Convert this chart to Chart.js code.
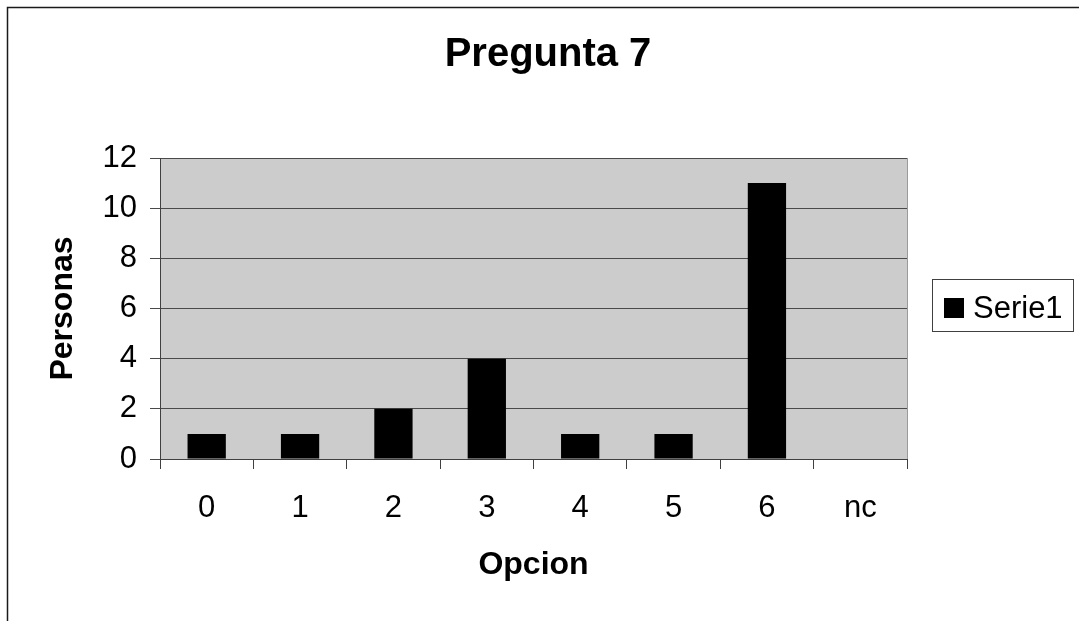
<!DOCTYPE html>
<html lang="es">
<head>
  <meta charset="UTF-8">
  <title>Pregunta 7</title>
  <style>
    * { margin: 0; padding: 0; box-sizing: border-box; }
    body { background: #fff; width: 1079px; height: 621px; overflow: hidden; }
    canvas { display: block; }
  </style>
</head>
<body>
  <canvas id="chart" width="1079" height="621"></canvas>

  <script src="https://cdn.jsdelivr.net/npm/chart.js"></script>
  <script>
    // chart data
    const categories = ['0', '1', '2', '3', '4', '5', '6', 'nc'];
    const personas = [1, 1, 2, 4, 1, 1, 11, 0];
    const seriesName = 'Serie1';
    const chartTitle = 'Pregunta 7';
    const yMin = 0, yMax = 12, yStep = 2;

    const FONT = "'Liberation Sans', Arial, sans-serif";

    // grey plot background, outer frame, title and legend box (excel style)
    const excelLook = {
      id: 'excelLook',
      beforeDraw(chart) {
        const { ctx, chartArea: a } = chart;
        ctx.save();
        ctx.fillStyle = '#cccccc';
        ctx.fillRect(a.left, a.top, a.right - a.left, a.bottom - a.top);
        ctx.restore();
      },
      afterDraw(chart) {
        const { ctx, chartArea: a } = chart;
        ctx.save();
        // right border of plot area
        ctx.strokeStyle = '#9a9a9a';
        ctx.lineWidth = 1;
        ctx.beginPath();
        ctx.moveTo(a.right + 0.5, a.top);
        ctx.lineTo(a.right + 0.5, a.bottom);
        ctx.stroke();

        // outer frame (only top/left visible)
        ctx.strokeStyle = '#1a1a1a';
        ctx.lineWidth = 1.5;
        ctx.strokeRect(7.5, 7.5, 1200, 1200);

        // title, centred on the whole picture
        ctx.fillStyle = '#000';
        ctx.font = 'bold 40px ' + FONT;
        ctx.textAlign = 'center';
        ctx.textBaseline = 'middle';
        ctx.fillText(chartTitle, 548, 55);

        // legend
        const ds = chart.data.datasets[0];
        ctx.strokeStyle = '#404040';
        ctx.lineWidth = 1;
        ctx.strokeRect(932.5, 279.5, 141, 52);
        ctx.fillStyle = ds.backgroundColor;
        ctx.fillRect(944, 298, 20, 20);
        ctx.fillStyle = '#000';
        ctx.font = '31px ' + FONT;
        ctx.textAlign = 'left';
        ctx.textBaseline = 'alphabetic';
        ctx.fillText(ds.label, 973, 318);
        ctx.restore();
      }
    };

    new Chart(document.getElementById('chart'), {
      type: 'bar',
      data: {
        labels: categories,
        datasets: [{
          label: seriesName,
          data: personas,
          backgroundColor: '#000000',
          borderWidth: 0,
          barPercentage: 0.41,
          categoryPercentage: 1
        }]
      },
      options: {
        responsive: false,
        animation: false,
        devicePixelRatio: 1,
        layout: { padding: { left: 0, right: 172, top: 158, bottom: 0 } },
        plugins: {
          legend: { display: false },
          tooltip: { enabled: false },
          title: { display: false }
        },
        scales: {
          x: {
            offset: true,
            grid: {
              offset: true,
              drawOnChartArea: false,
              drawTicks: true,
              tickLength: 10,
              color: '#404040'
            },
            border: { color: '#404040', width: 1 },
            ticks: {
              color: '#000',
              padding: 21,
              font: { family: FONT, size: 31 }
            },
            title: {
              display: true,
              text: 'Opcion',
              color: '#000',
              font: { family: FONT, size: 32, weight: 'bold' },
              padding: { top: 0, bottom: 37 }
            },
            afterFit(scale) { scale.height = 162; }
          },
          y: {
            min: yMin,
            max: yMax,
            grid: {
              color: '#4a4a4a',
              tickLength: 10,
              drawTicks: true
            },
            border: { color: '#404040', width: 1 },
            ticks: {
              stepSize: yStep,
              color: '#000',
              padding: 13,
              font: { family: FONT, size: 31 }
            },
            title: {
              display: true,
              text: 'Personas',
              color: '#000',
              font: { family: FONT, size: 32, weight: 'bold' },
              padding: { top: 44, bottom: 0 }
            },
            afterFit(scale) { scale.width = 160; }
          }
        }
      },
      plugins: [excelLook]
    });
  </script>
</body>
</html>
